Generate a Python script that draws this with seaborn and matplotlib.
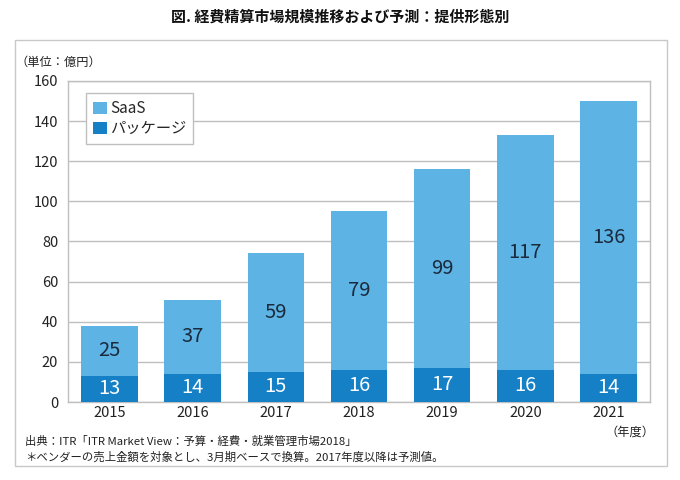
import matplotlib
matplotlib.use("Agg")
import matplotlib.pyplot as plt
import seaborn as sns
import pandas as pd
from matplotlib.patches import Rectangle, Patch

years = ["2015", "2016", "2017", "2018", "2019", "2020", "2021"]
package = [13, 14, 15, 16, 17, 16, 14]
saas = [25, 37, 59, 79, 99, 117, 136]
series_names = ["SaaS", "パッケージ"]
title = "図. 経費精算市場規模推移および予測：提供形態別"
unit_label = "（単位：億円）"
xunit_label = "（年度）"
notes = ["出典：ITR「ITR Market View：予算・経費・就業管理市場2018」",
         "＊ベンダーの売上金額を対象とし、3月期ベースで換算。2017年度以降は予測値。"]

c_saas = "#5CB3E4"
c_pkg = "#1580C6"

sns.set_theme(style="white")
plt.rcParams['font.family'] = ['Noto Sans CJK JP', 'DejaVu Sans']

df = pd.DataFrame({"year": years, "package": package, "saas": saas})
df["total"] = df["package"] + df["saas"]

fig = plt.figure(figsize=(6.8, 4.8), dpi=100)
ax = fig.add_axes([0.1, 0.1625, 0.856, 0.669])

sns.barplot(data=df, x="year", y="total", color=c_saas, width=0.68,
            saturation=1, ax=ax, zorder=3, linewidth=0)
sns.barplot(data=df, x="year", y="package", color=c_pkg, width=0.68,
            saturation=1, ax=ax, zorder=3, linewidth=0)

for i, (p, s) in enumerate(zip(package, saas)):
    ax.text(i, p / 2, str(p), ha="center", va="center", color="white",
            fontsize=14.5, zorder=4)
    ax.text(i, p + s / 2, str(s), ha="center", va="center", color="#1B2A3C",
            fontsize=14.5, zorder=4)

ax.set_ylim(0, 160)
ax.set_yticks(range(0, 161, 20))
ax.set_xlim(-0.5, len(years) - 0.5)
ax.set_xlabel("")
ax.set_ylabel("")
ax.yaxis.grid(True, color="#BFBFBF", linewidth=1, zorder=0)
for sp in ax.spines.values():
    sp.set_visible(True)
    sp.set_color("#BFBFBF")
    sp.set_linewidth(1)
ax.tick_params(axis="y", length=4, color="#BFBFBF", labelsize=10.5, labelcolor="#222222", pad=3)
ax.tick_params(axis="x", length=0, labelsize=10.5, labelcolor="#222222", pad=3)

handles = [Patch(facecolor=c_saas, edgecolor="none"), Patch(facecolor=c_pkg, edgecolor="none")]
leg = ax.legend(handles, series_names, loc="upper left", bbox_to_anchor=(0.018, 0.985),
                fontsize=11, frameon=True, fancybox=False, edgecolor="#BFBFBF",
                handlelength=0.9, handleheight=0.9, handletextpad=0.2,
                borderpad=0.45, labelspacing=0.2, framealpha=1)
leg.get_frame().set_linewidth(1)

fig.patches.append(Rectangle((15 / 680, 1 - 466 / 480), 652 / 680, 426 / 480,
                             transform=fig.transFigure, fill=False,
                             edgecolor="#C8C8C8", linewidth=1))

fig.text(0.5, 1 - 17 / 480, title, ha="center", va="center", fontsize=10.8,
         fontweight="bold", color="#111111")
fig.text(16 / 680, 1 - 62 / 480, unit_label, ha="left", va="center", fontsize=8.8,
         color="#222222")
fig.text(606 / 680, 1 - 432 / 480, xunit_label, ha="left", va="center", fontsize=8.8,
         color="#222222")
fig.text(25 / 680, 1 - 441 / 480, notes[0], ha="left", va="center", fontsize=8.2,
         color="#222222")
fig.text(25 / 680, 1 - 457 / 480, notes[1], ha="left", va="center", fontsize=8.2,
         color="#222222")

fig.savefig("out.png", dpi=100, facecolor="white")
